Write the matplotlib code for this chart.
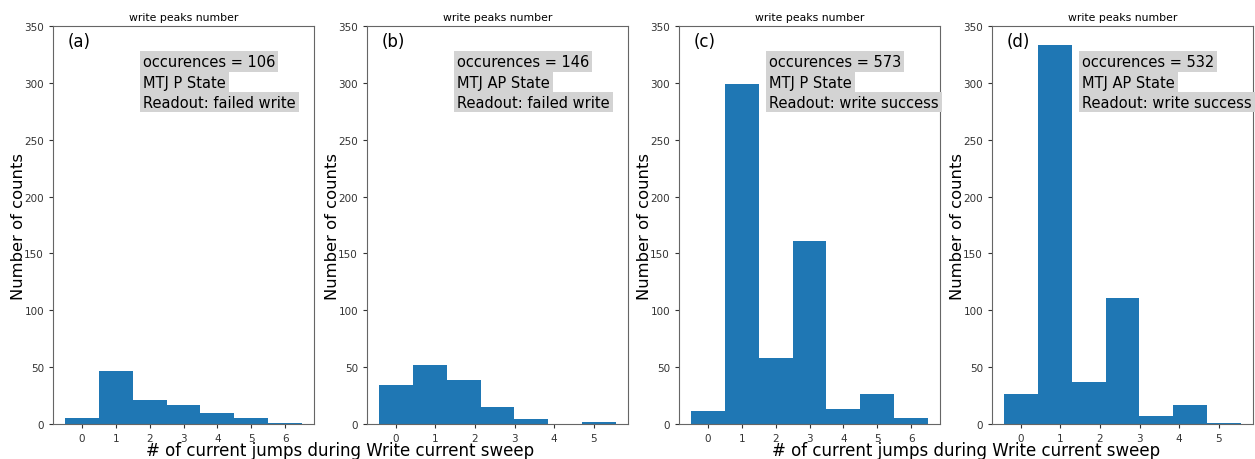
import numpy as np
import matplotlib
matplotlib.use("Agg")
import matplotlib.pyplot as plt

# ---- data ----
panel_labels = ["(a)", "(b)", "(c)", "(d)"]
occurences = [106, 146, 573, 532]
states = ["MTJ P State", "MTJ AP State", "MTJ P State", "MTJ AP State"]
readouts = ["Readout: failed write", "Readout: failed write",
            "Readout: write success", "Readout: write success"]

counts_a = [5, 47, 21, 17, 10, 5, 1]
counts_b = [34, 52, 39, 15, 4, 0, 2]
counts_c = [11, 299, 58, 161, 13, 26, 5]
counts_d = [26, 333, 37, 111, 7, 17, 1]

edges_a = np.arange(-0.5, 7.0, 1.0)
edges_b = np.linspace(-0.43, 5.57, 8)
edges_c = np.arange(-0.5, 7.0, 1.0)
edges_d = np.linspace(-0.43, 5.57, 8)

xticks_a = [0, 1, 2, 3, 4, 5, 6]
xticks_b = [0, 1, 2, 3, 4, 5]
yticks = [0, 50, 100, 150, 200, 250, 300, 350]

all_counts = [counts_a, counts_b, counts_c, counts_d]
all_edges = [edges_a, edges_b, edges_c, edges_d]
all_xticks = [xticks_a, xticks_b, xticks_a, xticks_b]

W, H = 1255, 460
fig = plt.figure(figsize=(W / 100, H / 100), dpi=100)

lefts = [53, 367, 679, 992]
ax_w = 261
ax_top, ax_bot = 27, 425

for i in range(4):
    ax = fig.add_axes([lefts[i] / W, (H - ax_bot) / H, ax_w / W, (ax_bot - ax_top) / H])
    edges = all_edges[i]
    centers = (edges[:-1] + edges[1:]) / 2
    ax.hist(centers, bins=edges, weights=all_counts[i], color="#1f77b4")
    ax.set_ylim(0, 350)
    ax.set_yticks(yticks)
    ax.set_xticks(all_xticks[i])
    ax.tick_params(labelsize=7.5, length=3, width=0.8, colors="#333333")
    for s in ax.spines.values():
        s.set_color("#666666")
    ax.set_title("write peaks number", fontsize=7.8, pad=4)
    ax.set_ylabel("Number of counts", fontsize=11.8, labelpad=-1)
    ax.text(0.057, 0.962, panel_labels[i], transform=ax.transAxes,
            fontsize=12, va="center", ha="left")
    lines = [f"occurences = {occurences[i]}", states[i], readouts[i]]
    ys = [0.911, 0.859, 0.809]
    for t, y in zip(lines, ys):
        ax.text(0.345, y, t, transform=ax.transAxes, fontsize=10.5,
                va="center", ha="left", clip_on=False,
                bbox=dict(boxstyle="square,pad=0.2", facecolor="#d3d3d3",
                          edgecolor="none"))

xl = "# of current jumps during Write current sweep"
fig.text((53 + 628) / 2 / W, (H - 451) / H, xl, fontsize=12, ha="center", va="center")
fig.text((679 + 1253) / 2 / W, (H - 451) / H, xl, fontsize=12, ha="center", va="center")

fig.savefig("out.png", dpi=100)
